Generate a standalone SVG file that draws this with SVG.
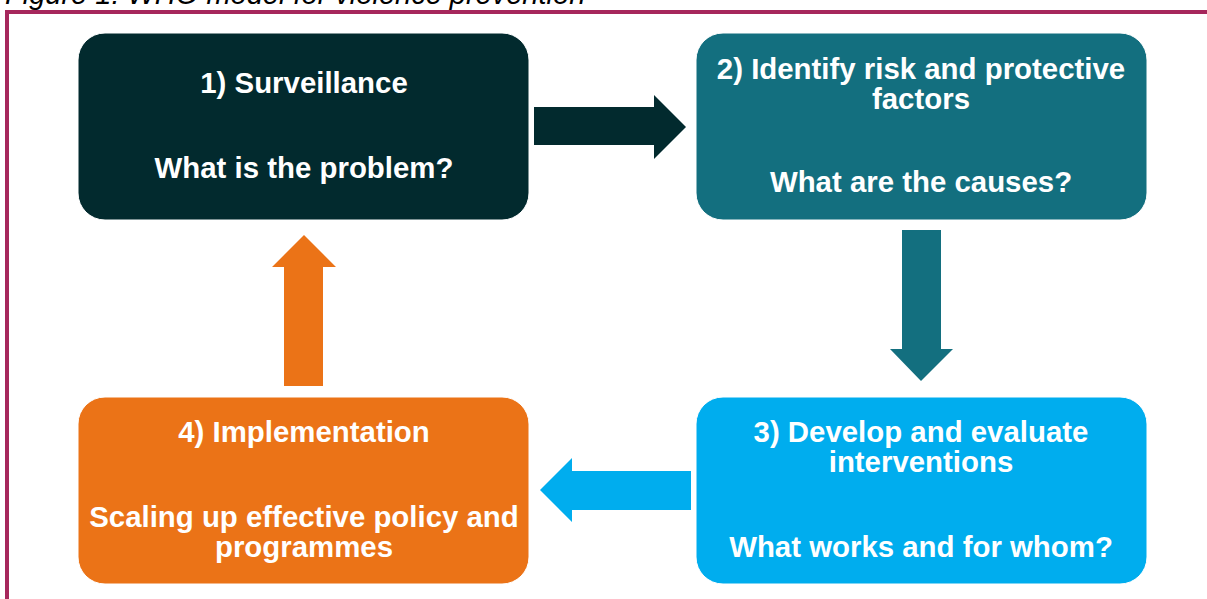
<svg xmlns="http://www.w3.org/2000/svg" width="1207" height="599" viewBox="0 0 1207 599">
  <style>
    .caption { font-family: "Liberation Sans", Arial, sans-serif; font-style: italic; font-size: 29px; fill: #000; }
    .label { font-family: "Liberation Sans", Arial, sans-serif; font-weight: bold; font-size: 29.4px; fill: #fff; text-anchor: middle; }
    .frame { fill: none; stroke: #a6275c; stroke-width: 4; }
    .box { stroke: #ffffff; stroke-width: 1; }
  </style>

  <rect width="1207" height="599" fill="#ffffff"/>

  <!-- figure caption (partly above the top edge) -->
  <text class="caption" x="5" y="4">Figure 1: WHO model for violence prevention</text>

  <!-- figure frame -->
  <rect class="frame" x="7" y="12" width="1230" height="620"/>

  <!-- stage 1 -->
  <g id="node-surveillance">
    <rect class="box" x="78" y="33" width="451" height="187" rx="27" fill="#022a2e"/>
    <text class="label" x="304" y="93">1) Surveillance</text>
    <text class="label" x="304" y="178">What is the problem?</text>
  </g>

  <!-- stage 2 -->
  <g id="node-risk-factors">
    <rect class="box" x="696" y="33" width="451" height="187" rx="27" fill="#136f7f"/>
    <text class="label" x="921" y="79">2) Identify risk and protective</text>
    <text class="label" x="921" y="109">factors</text>
    <text class="label" x="921" y="192">What are the causes?</text>
  </g>

  <!-- stage 3 -->
  <g id="node-interventions">
    <rect class="box" x="696" y="397" width="451" height="187" rx="27" fill="#00adee"/>
    <text class="label" x="921" y="442">3) Develop and evaluate</text>
    <text class="label" x="921" y="472">interventions</text>
    <text class="label" x="921" y="557">What works and for whom?</text>
  </g>

  <!-- stage 4 -->
  <g id="node-implementation">
    <rect class="box" x="78" y="397" width="451" height="187" rx="27" fill="#eb7317"/>
    <text class="label" x="304" y="442">4) Implementation</text>
    <text class="label" x="304" y="527">Scaling up effective policy and</text>
    <text class="label" x="304" y="557">programmes</text>
  </g>

  <!-- block arrows between the stages -->
  <g id="connectors">
    <polygon fill="#022a2e" points="534,107 654,107 654,95 686,127 654,159 654,145 534,145"/>
    <polygon fill="#136f7f" points="902,230 941,230 941,349 953,349 921,381 890,349 902,349"/>
    <polygon fill="#00adee" points="691,471 572,471 572,458 540,490 572,522 572,510 691,510"/>
    <polygon fill="#eb7317" points="284,386 323,386 323,267 336,267 304,235 272,267 284,267"/>
  </g>
</svg>
